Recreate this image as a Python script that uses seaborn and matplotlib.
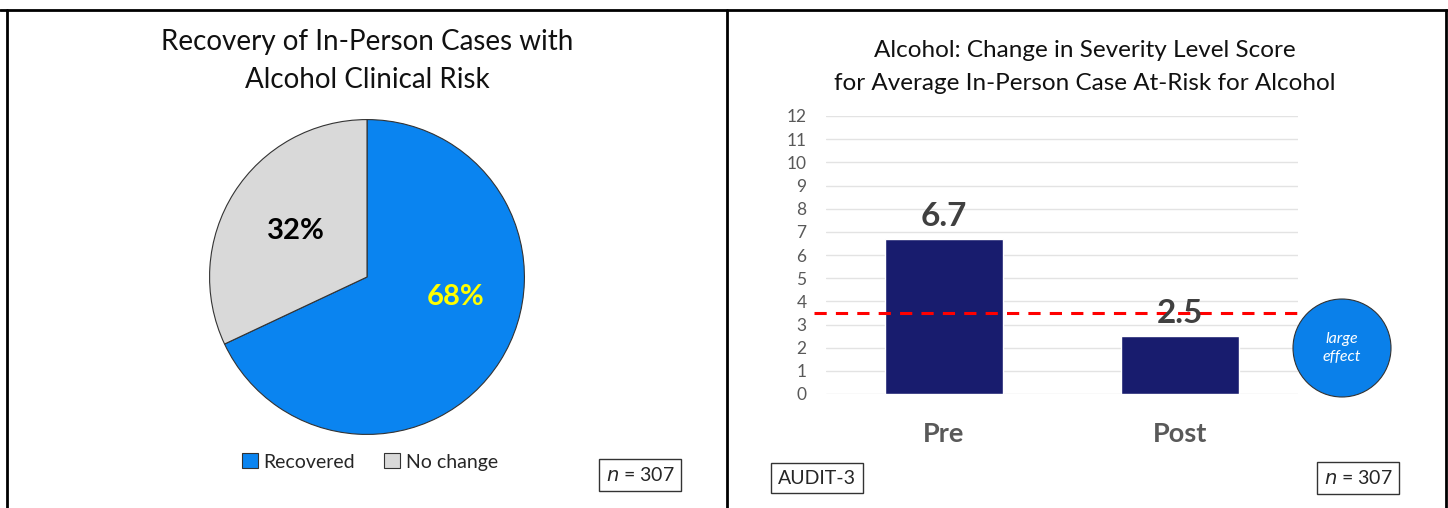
"""Two-panel alcohol outcome summary: recovery pie and pre/post severity bars."""

import matplotlib.pyplot as plt
import matplotlib.patches as mpatches
import pandas as pd
import seaborn as sns

# Pie data.
pie_labels = ["Recovered", "No change"]
pie_shares = [68, 32]
pie_colors = ["#0A84F0", "#D9D9D9"]

# Bar data.
phases = ["Pre", "Post"]
severity_scores = [6.7, 2.5]
risk_threshold = 3.5
sample_size = 307

sns.set_theme(style="white")
plt.rcParams["font.family"] = ["Lato", "DejaVu Sans"]

W, H = 1448, 508
fig = plt.figure(figsize=(W / 100, H / 100), dpi=100)


def px_axes(x0, y0, x1, y1):
    """Axes from pixel box (top-left origin)."""
    return fig.add_axes([x0 / W, 1 - y1 / H, (x1 - x0) / W, (y1 - y0) / H])


def px(x, y):
    return x / W, 1 - y / H


# Table borders.
border = dict(color="black", lw=2, transform=fig.transFigure)
fig.add_artist(plt.Line2D([0, 1], [1 - 10 / H] * 2, **border))
for xb in [7, 727, 1446]:
    fig.add_artist(plt.Line2D([xb / W] * 2, [0, 1 - 10 / H], **border))

# ---- Left panel: pie chart.
ax_pie = px_axes(208, 118, 526, 436)
ax_pie.pie(
    pie_shares,
    colors=pie_colors,
    startangle=90,
    counterclock=False,
    wedgeprops=dict(edgecolor="#333333", linewidth=0.8),
)
ax_pie.set_xlim(-1.01, 1.01)
ax_pie.set_ylim(-1.01, 1.01)
ax_pie.text(0.56, -0.13, f"{pie_shares[0]}%", color="#FFFF00", fontsize=21,
            fontweight="bold", ha="center", va="center")
ax_pie.text(-0.45, 0.29, f"{pie_shares[1]}%", color="black", fontsize=21,
            fontweight="bold", ha="center", va="center")

fig.text(*px(367, 61), "Recovery of In-Person Cases with\nAlcohol Clinical Risk",
         ha="center", va="center", fontsize=20, linespacing=1.55, color="#111111")

handles = [mpatches.Rectangle((0, 0), 1, 1, facecolor=c, edgecolor="#333333", lw=0.8)
           for c in pie_colors]
fig.legend(handles=handles, labels=pie_labels, loc="center", bbox_to_anchor=px(370, 462),
           ncol=2, frameon=False, fontsize=14, handlelength=0.8, handleheight=0.8,
           handletextpad=0.3, columnspacing=1.5)

box = dict(boxstyle="square,pad=0.35", facecolor="white", edgecolor="#333333", lw=1)
fig.text(*px(640, 475), f"$n$ = {sample_size}", ha="center", va="center",
         fontsize=14, bbox=box, math_fontfamily="dejavusans")

# ---- Right panel: bar chart.
ax_bar = px_axes(826, 116, 1298, 394)
bar_df = pd.DataFrame({"phase": phases, "score": severity_scores})
sns.barplot(data=bar_df, x="phase", y="score", order=phases, color="#181C6E",
            width=0.5, saturation=1, ax=ax_bar)
ax_bar.set_xlim(-0.5, 1.5)
ax_bar.set_ylim(0, 12)
ax_bar.set_yticks(range(0, 13))
ax_bar.grid(axis="y", color="#E3E3E3", lw=1)
ax_bar.set_axisbelow(True)
sns.despine(ax=ax_bar, left=True, bottom=True)
ax_bar.set_xlabel("")
ax_bar.set_ylabel("")
ax_bar.tick_params(axis="y", labelsize=12.5, labelcolor="#595959", pad=14, length=0)
ax_bar.tick_params(axis="x", labelsize=19.5, labelcolor="#595959", pad=20, length=0)
for lab in ax_bar.get_xticklabels():
    lab.set_fontweight("bold")

for i, v in enumerate(severity_scores):
    ax_bar.text(i, v + 0.35, f"{v}", ha="center", va="bottom", fontsize=24,
                fontweight="bold", color="#404040", zorder=5)

ax_bar.plot([-0.55, 1.5], [risk_threshold] * 2, color="#FF0000", lw=2.2,
            ls=(0, (4, 3)), clip_on=False, zorder=4)

fig.text(*px(1085, 67),
         "Alcohol: Change in Severity Level Score\nfor Average In-Person Case At-Risk for Alcohol",
         ha="center", va="center", fontsize=17.5, linespacing=1.65, color="#111111")

# Effect size badge.
cx, cy = px(1342, 348)
fig.add_artist(mpatches.Ellipse((cx, cy), 98 / W, 98 / H, transform=fig.transFigure,
                                facecolor="#0A80EA", edgecolor="#333333", lw=0.8))
fig.text(cx, cy, "large\neffect", ha="center", va="center", fontsize=11.5,
         style="italic", color="white", linespacing=1.35)

fig.text(*px(817, 478), "AUDIT-3", ha="center", va="center", fontsize=14, bbox=box)
fig.text(*px(1358, 478), f"$n$ = {sample_size}", ha="center", va="center",
         fontsize=14, bbox=box, math_fontfamily="dejavusans")

fig.savefig("out.png", dpi=100)
